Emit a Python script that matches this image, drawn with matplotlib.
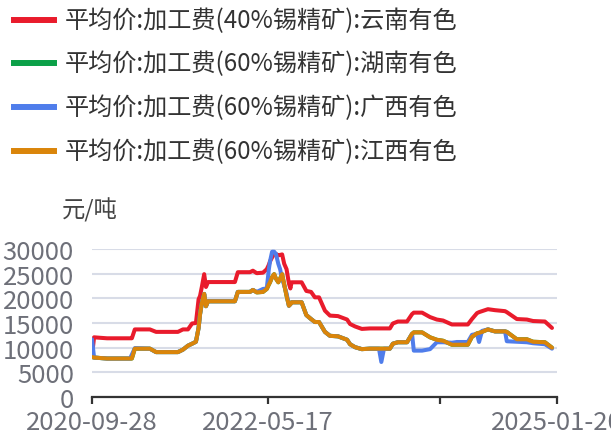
import pandas as pd
import matplotlib.pyplot as plt
from matplotlib.lines import Line2D

plt.rcParams['font.family'] = ['Noto Sans CJK SC', 'DejaVu Sans']

dates = ['2020-09-28', '2020-10-05', '2020-10-26', '2020-11-18', '2021-02-04', '2021-02-10',
         '2021-02-20', '2021-04-12', '2021-05-03', '2021-07-16', '2021-08-02', '2021-08-19',
         '2021-09-02', '2021-09-15', '2021-09-24', '2021-09-29', '2021-10-05', '2021-10-13',
         '2021-10-19', '2021-10-26', '2022-01-25', '2022-02-04', '2022-03-17', '2022-03-27',
         '2022-04-09', '2022-04-30', '2022-05-13', '2022-05-20', '2022-05-24', '2022-05-31',
         '2022-06-07', '2022-06-13', '2022-06-21', '2022-06-27', '2022-07-04', '2022-07-11',
         '2022-07-19', '2022-07-27', '2022-08-01', '2022-08-05', '2022-09-08', '2022-09-24',
         '2022-10-10', '2022-10-23', '2022-11-06', '2022-11-26', '2022-12-13', '2023-01-09',
         '2023-02-09', '2023-02-19', '2023-03-08', '2023-03-31', '2023-04-27', '2023-05-28',
         '2023-06-05', '2023-06-14', '2023-07-04', '2023-07-14', '2023-07-31', '2023-08-31',
         '2023-09-17', '2023-09-23', '2023-10-21', '2023-11-17', '2023-12-10', '2023-12-31',
         '2024-01-30', '2024-02-16', '2024-03-24', '2024-04-07', '2024-04-24', '2024-05-01',
         '2024-05-11', '2024-05-31', '2024-06-24', '2024-07-28', '2024-08-03', '2024-09-06',
         '2024-10-10', '2024-10-31', '2024-12-10', '2025-01-03']

yunnan = [8300, 12100, 12000, 11900, 11900, 11900,
          13700, 13700, 13200, 13200, 13700, 13700,
          14900, 15000, 19800, 20500, 22300, 24900,
          22300, 23300, 23300, 25300, 25300, 25600,
          25100, 25200, 25900, 26800, 27500, 28300,
          29000, 29000, 28700, 28800, 28900, 27000,
          25900, 23000, 22000, 23250, 23250, 21500,
          21300, 20200, 20200, 17500, 16500, 16400,
          15700, 14800, 14300, 13800, 13900, 13900,
          13900, 13900, 13900, 14900, 15300, 15300,
          16800, 17100, 17100, 16200, 15700, 15500,
          14700, 14700, 14700, 15800, 17000, 17200,
          17400, 17800, 17600, 17400, 17200, 15800,
          15700, 15400, 15300, 14000]

jiangxi = [8100, 8000, 7900, 7800, 7800, 7800,
           9800, 9800, 9100, 9100, 9600, 10400,
           10800, 11200, 14000, 16800, 19000, 20900,
           18400, 19400, 19400, 21300, 21300, 21700,
           21200, 21300, 21900, 22800, 23250, 24300,
           24900, 24000, 23250, 24000, 24900, 22800,
           20500, 18500, 18800, 19200, 19200, 16600,
           15800, 15200, 15200, 13200, 12400, 12300,
           11600, 10700, 10100, 9700, 9800, 9800,
           9800, 9800, 9800, 10800, 11100, 11100,
           12800, 13100, 13100, 12100, 11600, 11400,
           10600, 10600, 10600, 12200, 12900, 13000,
           13200, 13700, 13300, 13300, 13200, 11700,
           11700, 11200, 11100, 10000]

# 湖南 sits under 江西 for the whole period
hunan = list(jiangxi)

guangxi = [11700, 8000, 7900, 7800, 7800, 8600,
           9900, 9800, 9100, 9100, 9600, 10400,
           10800, 11200, 14000, 16800, 19000, 20900,
           18400, 19400, 19400, 21300, 21300, 21700,
           21300, 21900, 22000, 25900, 27500, 29450,
           29450, 29000, 27000, 25950, 24000, 22600,
           21000, 18500, 18800, 19200, 19200, 16600,
           15800, 15200, 15200, 13200, 12400, 12300,
           11600, 10700, 10100, 9700, 9800, 9800,
           7100, 9800, 9800, 10800, 11100, 11100,
           12800, 9400, 9400, 9700, 11100, 11100,
           11000, 11150, 11150, 12600, 12800, 11150,
           13400, 13700, 13300, 13300, 11300, 11200,
           11100, 10900, 10700, 9800]

names = ['平均价:加工费(40%锡精矿):云南有色', '平均价:加工费(60%锡精矿):湖南有色',
         '平均价:加工费(60%锡精矿):广西有色', '平均价:加工费(60%锡精矿):江西有色']
colors = ['#E91B2C', '#0BA048', '#4F7DEB', '#DA850A']

tick_dates = ['2020-09-28', '2022-05-17', '2023-12-21', '2025-01-20']
tick_labels = ['2020-09-28', '2022-05-17', '', '2025-01-20']

x = pd.to_datetime(dates)

W, H = 611, 439
fig = plt.figure(figsize=(W / 100, H / 100), dpi=100)
ax = fig.add_axes([92 / W, 1 - 398 / H, 465 / W, 148 / H])

for series, c in zip([yunnan, hunan, guangxi, jiangxi], colors):
    ax.plot(x, series, color=c, lw=2.9, solid_joinstyle='round', solid_capstyle='round', zorder=3)

ax.set_ylim(0, 30000)
ax.set_yticks(range(0, 30001, 5000))
ax.set_xlim(pd.Timestamp(tick_dates[0]), pd.Timestamp(tick_dates[-1]))
ax.set_xticks(pd.to_datetime(tick_dates))
ax.set_xticklabels(tick_labels)
ax.grid(axis='y', color='#D8DCE7', lw=1.5, zorder=0)
for s in ['top', 'right', 'left']:
    ax.spines[s].set_visible(False)
ax.spines['bottom'].set_color('#333333')
ax.spines['bottom'].set_linewidth(1.6)
ax.tick_params(axis='y', length=0, pad=13, labelsize=18.5, labelcolor='#6E7079')
ax.tick_params(axis='x', length=5, width=1.6, color='#333333', pad=3.5, labelsize=18.5, labelcolor='#6E7079')

fig.text(62 / W, 1 - 210 / H, '元/吨', fontsize=16.8, color='#444444', va='center')

# legend, drawn by hand so the rows sit where the reference has them
rows = [20.7, 64, 108.3, 152.3]
for name, c, ry in zip(names, colors, rows):
    fig.add_artist(Line2D([14 / W, 54 / W], [1 - ry / H, 1 - ry / H], color=c, lw=4.3,
                          transform=fig.transFigure))
    fig.text(65 / W, 1 - ry / H, name, fontsize=17.4, color='#333333', va='center')

fig.savefig('out.png', dpi=100)
